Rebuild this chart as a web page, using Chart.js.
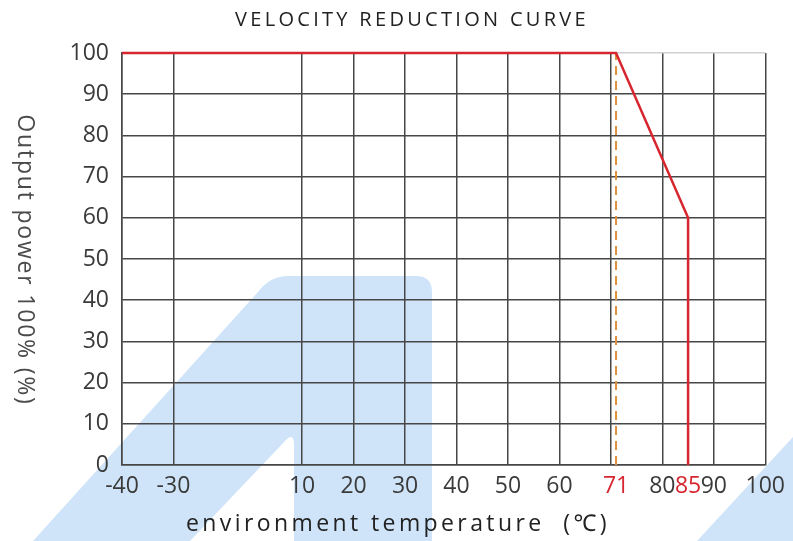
<!DOCTYPE html>
<html>
<head>
<meta charset="utf-8">
<script src="https://cdn.jsdelivr.net/npm/chart.js@4.4.1/dist/chart.umd.min.js"></script>
<style>
  html, body { margin: 0; padding: 0; background: #fff; }
  #wrap { width: 793px; height: 541px; }
</style>
</head>
<body>
<div id="wrap"><canvas id="derating"></canvas></div>
<script>
// derating curve points
const curveTemps = [-40, 71, 85, 85];
const curvePower = [100, 100, 60, 0];
// dashed marker at derating start
const markerTemps = [71, 71];
const markerPower = [0, 100];

const xTickValues = [-40, -30, 10, 20, 30, 40, 50, 60, 70, 71, 80, 85, 90, 100];
const xHiddenLabels = [70];
const xRedLabels = [71, 85];
const xNoGrid = [71, 85];
const yTickValues = [0, 10, 20, 30, 40, 50, 60, 70, 80, 90, 100];

// the axis skips -20..0, so it is drawn in pieces
const breakTemps = [-40, -30, 10, 100];
const breakSlots = [0, 1, 3.5, 12.5];

const chartTitle = 'VELOCITY REDUCTION CURVE';
const xTitle = 'environment temperature  (℃)';
const yTitle = 'Output power 100% (%)';

const FONT = "'Open Sans', 'Noto Sans', sans-serif";
const RED = '#d7262f';
const GRID = '#474747';

function toSlot(t) {
    for (let i = 0; i < breakTemps.length - 1; i++) {
        const a = breakTemps[i], b = breakTemps[i + 1];
        if (t <= b || i == breakTemps.length - 2) {
            return breakSlots[i] + (t - a) / (b - a) * (breakSlots[i + 1] - breakSlots[i]);
        }
    }
}

class BrokenScale extends Chart.LinearScale {
    getPixelForValue(value) {
        const last = breakSlots[breakSlots.length - 1];
        return this.getPixelForDecimal(toSlot(value) / last);
    }
}
BrokenScale.id = 'broken';
BrokenScale.defaults = Chart.LinearScale.defaults;
Chart.register(BrokenScale);

const watermark = {
    id: 'watermark',
    beforeDraw(chart) {
        const c = chart.ctx;
        c.save();
        c.fillStyle = '#cfe4f9';
        c.beginPath();
        c.moveTo(33, 541);
        c.lineTo(258, 292);
        c.quadraticCurveTo(270, 276, 288, 276);
        c.lineTo(416, 276);
        c.quadraticCurveTo(432, 276, 432, 292);
        c.lineTo(432, 541);
        c.lineTo(294, 541);
        c.lineTo(294, 443);
        c.quadraticCurveTo(293, 433, 286, 440);
        c.lineTo(190, 541);
        c.closePath();
        c.fill();
        c.beginPath();
        c.moveTo(697, 541);
        c.lineTo(793, 437);
        c.lineTo(793, 541);
        c.closePath();
        c.fill();
        c.restore();
    }
};

const titles = {
    id: 'titles',
    afterDraw(chart) {
        const c = chart.ctx;
        c.save();
        c.textAlign = 'center';
        c.textBaseline = 'middle';

        c.fillStyle = '#222';
        c.font = '20px ' + FONT;
        c.letterSpacing = '3.3px';
        c.fillText(chartTitle, 412, 20);

        c.fillStyle = '#222';
        c.font = '23px ' + FONT;
        c.letterSpacing = '3.4px';
        c.fillText(xTitle, 398, 524);

        c.fillStyle = '#4a4a4a';
        c.font = '23px ' + FONT;
        c.letterSpacing = '1.8px';
        c.translate(25, 260);
        c.rotate(Math.PI / 2);
        c.fillText(yTitle, 0, 0);
        c.restore();
    }
};

const config = {
    type: 'line',
    data: {
        datasets: [
            {
                label: 'derating',
                data: curveTemps.map((t, i) => ({ x: t, y: curvePower[i] })),
                borderColor: RED,
                borderWidth: 2.5,
                pointRadius: 0,
                tension: 0,
                clip: false,
                order: 1
            },
            {
                label: 'marker',
                data: markerTemps.map((t, i) => ({ x: t, y: markerPower[i] })),
                borderColor: '#e0913e',
                borderWidth: 2,
                borderDash: [9, 6],
                pointRadius: 0,
                clip: false,
                order: 2
            }
        ]
    },
    options: {
        responsive: true,
        maintainAspectRatio: false,
        animation: false,
        events: [],
        layout: { padding: { top: 53, right: 27, left: 0, bottom: 0 } },
        plugins: {
            legend: { display: false },
            tooltip: { enabled: false }
        },
        scales: {
            x: {
                type: 'broken',
                min: -40,
                max: 100,
                afterFit: s => { s.height = 76; },
                afterBuildTicks: s => { s.ticks = xTickValues.map(v => ({ value: v })); },
                border: { color: GRID, width: 1.5 },
                grid: {
                    drawTicks: false,
                    lineWidth: 1.5,
                    color: ctx => (ctx.tick && xNoGrid.includes(ctx.tick.value)) ? 'rgba(0,0,0,0)' : GRID
                },
                ticks: {
                    autoSkip: false,
                    maxRotation: 0,
                    padding: 8,
                    font: { family: FONT, size: 23 },
                    color: ctx => xRedLabels.includes(ctx.tick.value) ? RED : '#3a3a3a',
                    callback: v => xHiddenLabels.includes(v) ? '' : String(v)
                }
            },
            y: {
                min: 0,
                max: 100,
                afterFit: s => { s.width = 122; },
                afterBuildTicks: s => { s.ticks = yTickValues.map(v => ({ value: v })); },
                border: { color: GRID, width: 1.5 },
                grid: {
                    drawTicks: false,
                    lineWidth: 1.5,
                    color: ctx => (ctx.tick && ctx.tick.value == 100) ? '#d0d0d0' : GRID
                },
                ticks: {
                    padding: 13,
                    font: { family: FONT, size: 23 },
                    color: '#3a3a3a'
                }
            }
        }
    },
    plugins: [watermark, titles]
};

new Chart(document.getElementById('derating'), config);
</script>
</body>
</html>
